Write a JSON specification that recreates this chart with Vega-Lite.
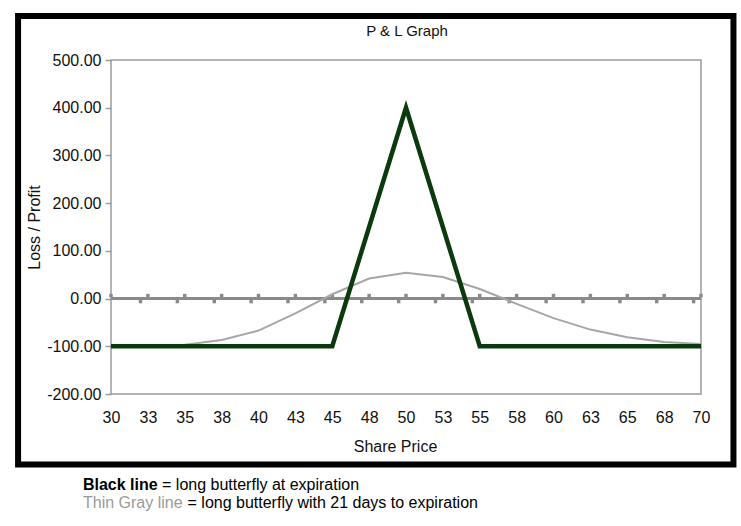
{
  "$schema": "https://vega.github.io/schema/vega-lite/v6.json",
  "width": 590,
  "height": 334,
  "autosize": "none",
  "padding": {"left": 111, "top": 60, "right": 40, "bottom": 132},
  "background": "white",
  "config": {
    "font": "Liberation Sans",
    "locale": {"number": {"decimal": ".", "thousands": ",", "grouping": [3], "currency": ["$", ""], "minus": "-"}},
    "view": {"stroke": "#9a9a9a", "strokeWidth": 1.5},
    "axis": {"gridColor": "#a0a0a0", "gridWidth": 1.5, "gridOpacity": 1, "labelFont": "Liberation Sans", "labelFontSize": 16, "labelColor": "#111111", "titleFont": "Liberation Sans", "titleFontSize": 16, "titleFontWeight": "normal", "titleColor": "#111111", "domain": false}
  },
  "data": {
    "values": [
      {"price": 30, "expiration": -100, "days21": -99},
      {"price": 32.5, "expiration": -100, "days21": -99},
      {"price": 35, "expiration": -100, "days21": -97},
      {"price": 37.5, "expiration": -100, "days21": -87},
      {"price": 40, "expiration": -100, "days21": -67},
      {"price": 42.5, "expiration": -100, "days21": -31},
      {"price": 45, "expiration": -100, "days21": 9},
      {"price": 47.5, "expiration": 150, "days21": 42},
      {"price": 50, "expiration": 400, "days21": 54},
      {"price": 52.5, "expiration": 150, "days21": 45},
      {"price": 55, "expiration": -100, "days21": 20},
      {"price": 57.5, "expiration": -100, "days21": -11},
      {"price": 60, "expiration": -100, "days21": -41},
      {"price": 62.5, "expiration": -100, "days21": -65},
      {"price": 65, "expiration": -100, "days21": -81},
      {"price": 67.5, "expiration": -100, "days21": -91},
      {"price": 70, "expiration": -100, "days21": -95}
    ]
  },
  "layer": [
    {
      "data": {"values": [{}]},
      "mark": {"type": "rect", "fill": "transparent", "stroke": "#000000", "strokeWidth": 6},
      "encoding": {
        "x": {
          "datum": 23.7, "type": "quantitative",
          "scale": {"domain": [30, 70], "nice": false, "zero": false},
          "axis": {"values": [30, 32.5, 35, 37.5, 40, 42.5, 45, 47.5, 50, 52.5, 55, 57.5, 60, 62.5, 65, 67.5, 70], "tickCount": 40, "format": "d", "ticks": false, "tickSize": 0, "labelPadding": 23, "labelBaseline": "middle", "labelFlush": false, "labelOverlap": false, "title": "Share Price", "titleX": 284, "titleY": 52, "titleBaseline": "middle", "titleAlign": "center"}
        },
        "x2": {"datum": 72.2},
        "y": {
          "datum": 592, "type": "quantitative",
          "scale": {"domain": [-200, 500], "nice": false, "zero": false},
          "axis": {"values": [-200, -100, 0, 100, 200, 300, 400, 500], "tickCount": 20, "format": ".2f", "ticks": true, "tickSize": 6, "tickColor": "#9a9a9a", "tickWidth": 1.5, "labelPadding": 4, "labelFlush": false, "labelOverlap": false, "title": "Loss / Profit", "titleAngle": -90, "titleX": -77, "titleY": 167, "titleBaseline": "middle", "titleAlign": "center"}
        },
        "y2": {"datum": -348}
      }
    },
    {
      "mark": {"type": "rule", "color": "#8a8a8a", "strokeWidth": 3},
      "encoding": {"y": {"datum": 0, "type": "quantitative"}}
    },
    {
      "mark": {"type": "square", "color": "#8a8a8a", "size": 12, "opacity": 1, "yOffset": -3},
      "encoding": {
        "x": {"field": "price", "type": "quantitative"},
        "y": {"datum": 0, "type": "quantitative"}
      }
    },
    {
      "transform": [{"filter": "datum.price > 30"}],
      "mark": {"type": "square", "color": "#8a8a8a", "size": 12, "opacity": 1, "yOffset": 3, "xOffset": -7.375},
      "encoding": {
        "x": {"field": "price", "type": "quantitative"},
        "y": {"datum": 0, "type": "quantitative"}
      }
    },
    {
      "mark": {"type": "line", "color": "#a6a6a6", "strokeWidth": 2},
      "encoding": {
        "x": {"field": "price", "type": "quantitative"},
        "y": {"field": "days21", "type": "quantitative"}
      }
    },
    {
      "mark": {"type": "line", "color": "#0b3a0e", "strokeWidth": 4.5},
      "encoding": {
        "x": {"field": "price", "type": "quantitative"},
        "y": {"field": "expiration", "type": "quantitative"}
      }
    },
    {
      "data": {"values": [{}]},
      "mark": {"type": "text", "text": "P & L Graph", "font": "Liberation Sans", "fontSize": 15, "color": "#111111", "align": "center", "baseline": "middle"},
      "encoding": {"x": {"datum": 50.07, "type": "quantitative"}, "y": {"datum": 561, "type": "quantitative"}}
    },
    {
      "data": {"values": [{}]},
      "mark": {"type": "text", "text": "Black line", "font": "Liberation Sans", "fontSize": 16, "fontWeight": "bold", "color": "#000000", "align": "left", "baseline": "middle"},
      "encoding": {"x": {"datum": 28.1, "type": "quantitative"}, "y": {"datum": -390, "type": "quantitative"}}
    },
    {
      "data": {"values": [{}]},
      "mark": {"type": "text", "text": "= long butterfly at expiration", "font": "Liberation Sans", "fontSize": 16, "color": "#000000", "align": "left", "baseline": "middle"},
      "encoding": {"x": {"datum": 33.46, "type": "quantitative"}, "y": {"datum": -390, "type": "quantitative"}}
    },
    {
      "data": {"values": [{}]},
      "mark": {"type": "text", "text": "Thin Gray line", "font": "Liberation Sans", "fontSize": 16, "color": "#9a9a9a", "align": "left", "baseline": "middle"},
      "encoding": {"x": {"datum": 28.1, "type": "quantitative"}, "y": {"datum": -429, "type": "quantitative"}}
    },
    {
      "data": {"values": [{}]},
      "mark": {"type": "text", "text": "= long butterfly with 21 days to expiration", "font": "Liberation Sans", "fontSize": 16, "color": "#000000", "align": "left", "baseline": "middle"},
      "encoding": {"x": {"datum": 35.19, "type": "quantitative"}, "y": {"datum": -429, "type": "quantitative"}}
    }
  ]
}
